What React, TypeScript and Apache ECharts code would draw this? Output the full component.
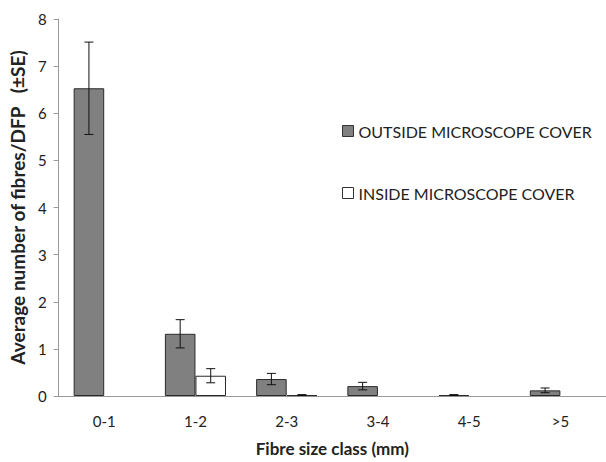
import React, { useEffect, useRef } from "react";
import * as echarts from "echarts";

const categories = ["0-1", "1-2", "2-3", "3-4", "4-5", ">5"];
const outsideMean = [6.53, 1.32, 0.36, 0.21, 0.02, 0.12];
const outsideSE = [0.98, 0.3, 0.12, 0.08, 0.01, 0.05];
const insideMean = [0, 0.43, 0.02, 0, 0, 0];
const insideSE = [0, 0.15, 0.01, 0, 0, 0];
const yTicks = [0, 1, 2, 3, 4, 5, 6, 7, 8];

const FONT = "Lato";
const GAP = 0.33;

function toBarData(values: number[]) {
  return values.map((v) =>
    v === 0 ? { value: v, itemStyle: { borderWidth: 0, opacity: 0 } } : { value: v }
  );
}

export default function App() {
  const ref = useRef<HTMLDivElement>(null);
  useEffect(() => {
    if (!ref.current) return;
    const chart = echarts.init(ref.current, null, { renderer: "svg" });
    const errData: number[][] = [];
    outsideMean.forEach((m, i) => {
      if (outsideSE[i] > 0) errData.push([i, m, outsideSE[i], 0]);
    });
    insideMean.forEach((m, i) => {
      if (insideSE[i] > 0) errData.push([i, m, insideSE[i], 1]);
    });
    chart.setOption({
      animation: false,
      textStyle: { fontFamily: FONT },
      grid: { left: 56, right: -6, top: 19, bottom: 62 },
      legend: {
        orient: "vertical",
        left: 342,
        top: 123,
        padding: 0,
        itemWidth: 11,
        itemHeight: 11,
        itemGap: 46,
        icon: "rect",
        data: ["OUTSIDE MICROSCOPE COVER", "INSIDE MICROSCOPE COVER"],
        textStyle: { fontFamily: FONT, fontSize: 16, color: "#222" },
        itemStyle: { borderColor: "#333", borderWidth: 1 },
      },
      xAxis: {
        type: "category",
        data: categories,
        name: "Fibre size class (mm)",
        nameLocation: "middle",
        nameGap: 44,
        nameTextStyle: { fontFamily: FONT, fontSize: 17, fontWeight: "bold", color: "#222" },
        axisLine: { lineStyle: { color: "#999" } },
        axisTick: { length: 6, lineStyle: { color: "#999" } },
        axisLabel: { fontSize: 15, color: "#222", margin: 17, fontFamily: FONT },
        splitLine: { show: false },
      },
      yAxis: {
        type: "value",
        min: yTicks[0],
        max: yTicks[yTicks.length - 1],
        interval: 1,
        name: "Average number of fibres/DFP   (±SE)",
        nameLocation: "middle",
        nameGap: 22,
        nameTextStyle: { fontFamily: FONT, fontSize: 19, fontWeight: "bold", color: "#222" },
        axisLine: { show: true, lineStyle: { color: "#999" } },
        axisTick: { show: true, length: 5, lineStyle: { color: "#999" } },
        axisLabel: { fontSize: 15, color: "#222", margin: 12, fontFamily: FONT },
        splitLine: { show: false },
      },
      series: [
        {
          name: "OUTSIDE MICROSCOPE COVER",
          type: "bar",
          data: toBarData(outsideMean),
          barGap: "0%",
          barCategoryGap: GAP * 100 + "%",
          itemStyle: { color: "#808080", borderColor: "#2a2a2a", borderWidth: 1 },
        },
        {
          name: "INSIDE MICROSCOPE COVER",
          type: "bar",
          data: toBarData(insideMean),
          itemStyle: { color: "#ffffff", borderColor: "#2a2a2a", borderWidth: 1 },
        },
        {
          name: "err",
          type: "custom",
          data: errData,
          z: 10,
          renderItem: (params: any, api: any) => {
            const idx = api.value(0);
            const mean = api.value(1);
            const se = api.value(2);
            const which = api.value(3);
            const band = api.size([1, 0])[0];
            const bw = (band * (1 - GAP)) / 2;
            const c = api.coord([idx, mean]);
            const cx = c[0] + (which === 0 ? -bw / 2 : bw / 2);
            const top = api.coord([idx, mean + se])[1];
            const bot = api.coord([idx, Math.max(0, mean - se)])[1];
            const hw = 4.5;
            const style = { stroke: "#111", lineWidth: 1 };
            return {
              type: "group",
              children: [
                { type: "line", shape: { x1: cx, y1: top, x2: cx, y2: bot }, style },
                { type: "line", shape: { x1: cx - hw, y1: top, x2: cx + hw, y2: top }, style },
                { type: "line", shape: { x1: cx - hw, y1: bot, x2: cx + hw, y2: bot }, style },
              ],
            };
          },
        },
      ],
    });
    return () => chart.dispose();
  }, []);
  return (
    <div
      ref={ref}
      style={{ position: "fixed", left: 0, top: 0, width: 606, height: 462, background: "#fff" }}
    />
  );
}
